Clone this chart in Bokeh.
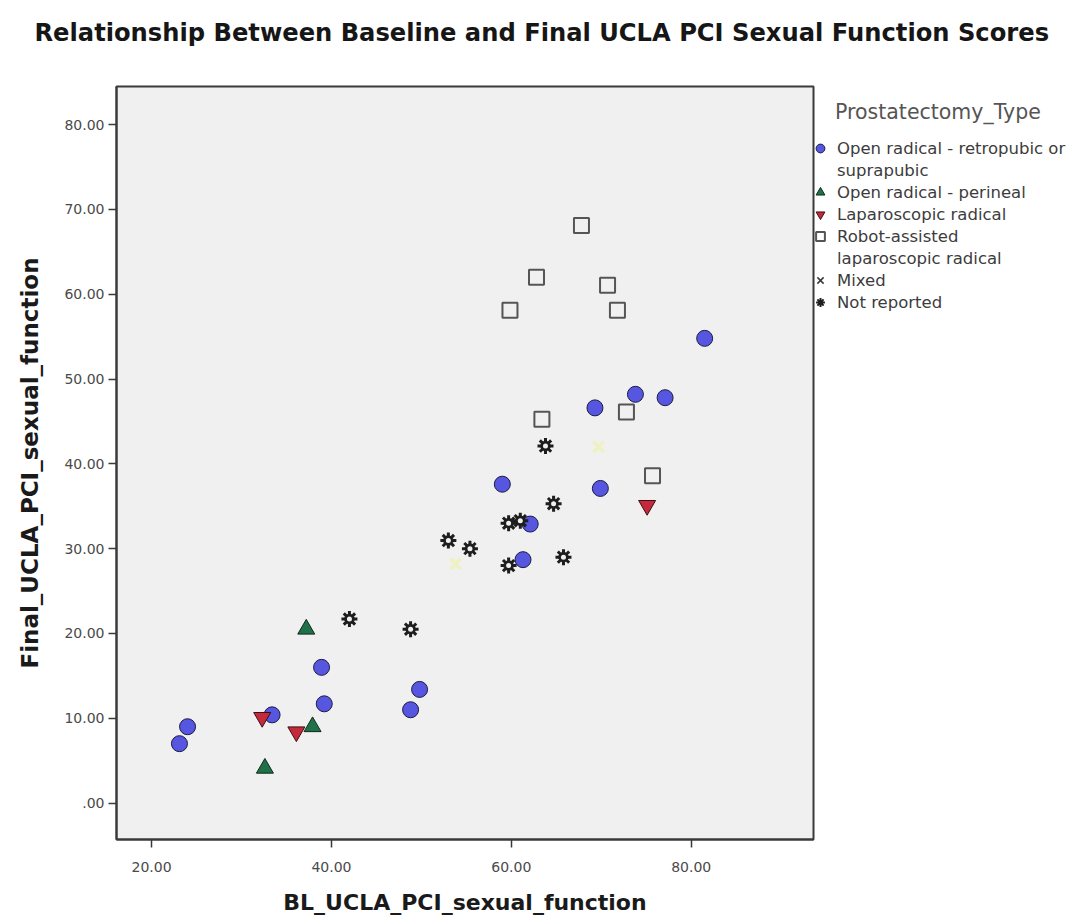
from bokeh.plotting import figure
from bokeh.models import Range1d, FixedTicker, Legend, LegendItem, LinearAxis
from bokeh.embed import file_html
from bokeh.resources import INLINE

# Baseline (BL) and final UCLA PCI sexual-function scores by prostatectomy type
retropubic_bl = [23.1, 24.0, 33.4, 38.9, 39.2, 48.8, 49.8, 59.0, 61.3, 62.1, 69.3, 69.9, 73.8, 77.1, 81.5]
retropubic_final = [7.0, 9.0, 10.4, 16.0, 11.7, 11.0, 13.4, 37.6, 28.7, 32.9, 46.6, 37.1, 48.2, 47.8, 54.8]

perineal_bl = [32.6, 37.9, 37.2]
perineal_final = [4.1, 9.0, 20.5]

laparoscopic_bl = [32.3, 36.1, 75.1]
laparoscopic_final = [10.1, 8.4, 35.1]

robot_bl = [59.85, 62.8, 67.8, 70.7, 71.8, 63.4, 72.8, 75.7]
robot_final = [58.1, 62.0, 68.1, 61.05, 58.1, 45.25, 46.1, 38.6]

mixed_bl = [69.7, 53.8]
mixed_final = [42.0, 28.2]

not_reported_bl = [42.0, 48.8, 53.0, 55.4, 59.7, 59.7, 61.0, 63.8, 64.7, 65.8]
not_reported_final = [21.7, 20.5, 30.95, 30.0, 28.0, 33.0, 33.3, 42.1, 35.3, 29.0]

legend_title = "Prostatectomy_Type"
# Legend text, one entry per line of the legend
legend_lines = [
    "Open radical - retropubic or",
    "suprapubic",
    "Open radical - perineal",
    "Laparoscopic radical",
    "Robot-assisted",
    "laparoscopic radical",
    "Mixed",
    "Not reported",
]

x_ticks = [20, 40, 60, 80]
x_tick_labels = ["20.00", "40.00", "60.00", "80.00"]
y_ticks = [0, 10, 20, 30, 40, 50, 60, 70, 80]
y_tick_labels = [".00", "10.00", "20.00", "30.00", "40.00", "50.00", "60.00", "70.00", "80.00"]

FONT = "DejaVu Sans"
BG = "#f0f0f0"

p = figure(
    frame_width=697, frame_height=753,
    min_border_left=116, min_border_right=259,
    min_border_top=86, min_border_bottom=81,
    x_range=Range1d(16.1, 93.6), y_range=Range1d(-4.3, 84.5),
    output_backend="svg", toolbar_location=None,
    background_fill_color=BG, border_fill_color="white",
)
# range used only by legend keys (keeps their marks off the frame)
p.extra_x_ranges = {"key": Range1d(-1000, -999)}

p.title.text = "Relationship Between Baseline and Final UCLA PCI Sexual Function Scores"
p.title.align = "left"
p.title.offset = -82
p.title.standoff = 31
p.title.text_font = FONT
p.title.text_font_size = "24.2px"
p.title.text_font_style = "bold"
p.title.text_color = "#161616"

p.outline_line_color = "#3a3a3a"
p.outline_line_width = 2
p.xgrid.visible = False
p.ygrid.visible = False

x_axis = p.below[0]
y_axis = p.left[0]

for ax, ticks, labels in ((x_axis, x_ticks, x_tick_labels), (y_axis, y_ticks, y_tick_labels)):
    ax.ticker = FixedTicker(ticks=ticks)
    ax.major_label_overrides = dict(zip(ticks, labels))
    ax.axis_line_color = "#3a3a3a"
    ax.axis_line_width = 2
    ax.major_tick_line_color = "#3a3a3a"
    ax.major_tick_line_width = 1.5
    ax.major_tick_in = 0
    ax.major_tick_out = 8
    ax.minor_tick_line_color = None
    ax.major_label_text_font = FONT
    ax.major_label_text_font_size = "14px"
    ax.major_label_text_color = "#4a4a4a"
    ax.axis_label_text_font = FONT
    ax.axis_label_text_font_style = "bold"
    ax.axis_label_text_color = "#1a1a1a"

x_axis.axis_label = "BL_UCLA_PCI_sexual_function"
x_axis.axis_label_text_font_size = "22px"
x_axis.major_label_standoff = 14
x_axis.axis_label_standoff = 15
y_axis.axis_label = "Final_UCLA_PCI_sexual_function"
y_axis.axis_label_text_font_size = "23px"
y_axis.major_label_standoff = 4
y_axis.axis_label_standoff = 18

# blank axis above the frame: a near-transparent tick keeps a gap between frame and title
gap = LinearAxis(ticker=FixedTicker(ticks=[50]), major_label_overrides={50: ""},
                 major_tick_in=0, major_tick_out=24, major_label_standoff=0,
                 major_label_text_font_size="1px", axis_line_color=None,
                 major_tick_line_color="#ffffff", major_tick_line_alpha=0.002,
                 major_tick_line_width=0.1, minor_tick_line_color=None)
p.add_layout(gap, "above")

# Data markers
r_retro = p.scatter(retropubic_bl, retropubic_final, marker="circle", size=16,
                    fill_color="#5656e0", line_color="#1c1c40", line_width=1)
r_peri = p.scatter(perineal_bl, perineal_final, marker="triangle", size=17,
                   fill_color="#1f7248", line_color="#0e2a1c", line_width=1)
r_lap = p.scatter(laparoscopic_bl, laparoscopic_final, marker="inverted_triangle", size=17,
                  fill_color="#c42a3c", line_color="#3a1014", line_width=1)
r_robot = p.scatter(robot_bl, robot_final, marker="square", size=15,
                    fill_alpha=0, line_color="#555555", line_width=2)
p.scatter(mixed_bl, mixed_final, marker="x", size=15,
          line_color="#eef3b6", line_width=3.5, line_alpha=0.8)
# gear-like symbol: spokes, dark hub, light centre
p.scatter(not_reported_bl, not_reported_final, marker="asterisk", size=16,
          line_color="#1e1e1e", line_width=3)
p.scatter(not_reported_bl, not_reported_final, marker="circle", size=9.5,
          fill_color="#1e1e1e", line_color="#1e1e1e", line_width=1)
p.scatter(not_reported_bl, not_reported_final, marker="circle", size=5,
          fill_color=BG, line_alpha=0)

# Legend keys
blank = p.scatter(mixed_bl, mixed_final, marker="circle", fill_alpha=0, line_alpha=0)
mixed_key = p.scatter(mixed_bl, mixed_final, marker="x", line_color="#3a3a3a",
                      line_width=1.5, x_range_name="key")
gear_key = p.scatter(not_reported_bl, not_reported_final, marker="asterisk",
                     line_color="#1e1e1e", line_width=2, x_range_name="key")

legend_renderers = [[r_retro], [blank], [r_peri], [r_lap], [r_robot], [blank], [mixed_key], [gear_key]]
legend = Legend(
    items=[LegendItem(label=t, renderers=r) for t, r in zip(legend_lines, legend_renderers)],
    title="\u00a0" * 4 + legend_title,
    title_text_font=FONT, title_text_font_size="20.5px", title_text_color="#555555",
    title_text_font_style="normal", title_standoff=13,
    location=(-4, 526),
    padding=0, margin=0, spacing=0,
    glyph_width=22, glyph_height=22, label_height=22, label_standoff=6,
    label_text_font=FONT, label_text_font_size="16.5px", label_text_color="#3c3c3c",
    border_line_alpha=0, background_fill_alpha=0,
)
p.add_layout(legend, "right")

open("out.html", "w").write(file_html(p, INLINE))
